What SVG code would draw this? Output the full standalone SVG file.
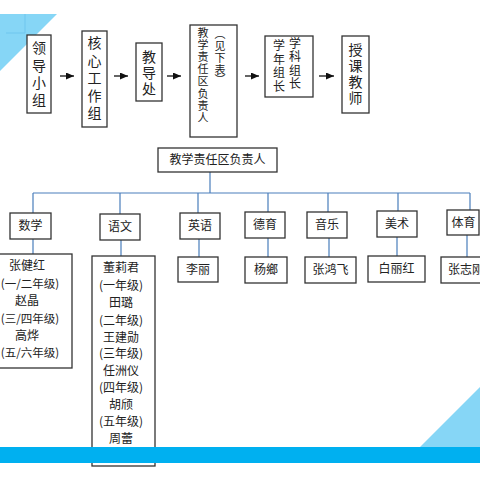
<svg xmlns="http://www.w3.org/2000/svg" width="480" height="480" viewBox="0 0 480 480">
<defs>
<style>
.box{fill:#fff;stroke:#333;stroke-width:1.3}
.t{font-family:"Noto Sans CJK SC","Liberation Sans",sans-serif;fill:#222;text-anchor:middle}
.t14{font-size:14px}
.t12{font-size:12px}
.t11{font-size:11px}
.t115{font-size:11.5px}
.arr{stroke:#111;stroke-width:1.3;fill:none}
.blue{stroke:#4a7ebb;stroke-width:1.2;fill:none}
</style>
<marker id="ah" markerUnits="userSpaceOnUse" markerWidth="8" markerHeight="7" refX="8" refY="3.5" orient="auto">
<path d="M0,0 L8,3.5 L0,7 z" fill="#111"/>
</marker>
</defs>
<rect x="0" y="0" width="480" height="480" fill="#fff"/>
<g id="decor">
<polygon points="0,14 57,14 0,71" fill="#86d6f6"/>
<path d="M6 33 H25 V14" stroke="#6ec6ee" stroke-width="1" fill="none"/>
<polygon points="420,447 480,447 480,387" fill="#86d6f6"/>
</g>
<g id="connectors">
<line class="arr" x1="60" y1="76" x2="74" y2="76" marker-end="url(#ah)"/>
<line class="arr" x1="114" y1="76" x2="128" y2="76" marker-end="url(#ah)"/>
<line class="arr" x1="167" y1="76" x2="181" y2="76" marker-end="url(#ah)"/>
<line class="arr" x1="245" y1="76" x2="259" y2="76" marker-end="url(#ah)"/>
<line class="arr" x1="319" y1="76" x2="334" y2="76" marker-end="url(#ah)"/>
<path class="blue" d="M210 172 V193 M33 193 H470 M33 193 V213 M120 193 V214 M198 193 V213 M268 193 V212 M328 193 V212 M398 193 V211 M470 193 V210"/>
<path class="blue" d="M33 239 V254 M121 240 V256 M199 239 V257 M268 238 V257 M329 238 V257 M397 237 V256 M467 235 V257"/>
</g>
<g id="n-lingdao">
<rect class="box" x="27" y="35" width="24" height="78"/>
<text class="t t14"><tspan x="39" y="53">领</tspan><tspan x="39" y="71">导</tspan><tspan x="39" y="88">小</tspan><tspan x="39" y="105">组</tspan></text>
</g>
<g id="n-hexin">
<rect class="box" x="82" y="31" width="25" height="96"/>
<text class="t t14"><tspan x="94.5" y="48">核</tspan><tspan x="94.5" y="66">心</tspan><tspan x="94.5" y="83">工</tspan><tspan x="94.5" y="101">作</tspan><tspan x="94.5" y="118">组</tspan></text>
</g>
<g id="n-jiaodao">
<rect class="box" x="136" y="43" width="26" height="58"/>
<text class="t t14"><tspan x="149" y="62">教</tspan><tspan x="149" y="78">导</tspan><tspan x="149" y="94">处</tspan></text>
</g>
<g id="n-zeren-top">
<rect class="box" x="190" y="25" width="47" height="112"/>
<text class="t t11"><tspan x="203" y="37">教</tspan><tspan x="203" y="49">学</tspan><tspan x="203" y="61">责</tspan><tspan x="203" y="73">任</tspan><tspan x="203" y="85">区</tspan><tspan x="203" y="98">负</tspan><tspan x="203" y="110">责</tspan><tspan x="203" y="122">人</tspan></text>
<text class="t t11"><tspan x="220" y="38">︵</tspan><tspan x="220" y="50">见</tspan><tspan x="220" y="62">下</tspan><tspan x="220" y="74">表</tspan><tspan x="220" y="84">︶</tspan></text>
</g>
<g id="n-zuzhang">
<rect class="box" x="265" y="36" width="48" height="61"/>
<text class="t t12"><tspan x="295" y="47.5">学</tspan><tspan x="295" y="61">科</tspan><tspan x="295" y="74.5">组</tspan><tspan x="295" y="88">长</tspan></text>
<text class="t t12"><tspan x="279" y="50">学</tspan><tspan x="279" y="63.5">年</tspan><tspan x="279" y="77">组</tspan><tspan x="279" y="90.5">长</tspan></text>
</g>
<g id="n-shouke">
<rect class="box" x="342" y="36" width="27" height="77"/>
<text class="t t14"><tspan x="355.5" y="55">授</tspan><tspan x="355.5" y="71">课</tspan><tspan x="355.5" y="87">教</tspan><tspan x="355.5" y="103">师</tspan></text>
</g>
<g id="n-zeren">
<rect class="box" x="158" y="148" width="119" height="24"/>
<text class="t t12" x="217.5" y="164">教学责任区负责人</text>
</g>
<g id="n-shuxue">
<rect class="box" x="10" y="213" width="41" height="26"/>
<text class="t t12" x="30.5" y="230">数学</text>
</g>
<g id="n-yuwen">
<rect class="box" x="100" y="214" width="40" height="26"/>
<text class="t t12" x="120" y="231">语文</text>
</g>
<g id="n-yingyu">
<rect class="box" x="180" y="213" width="40" height="26"/>
<text class="t t12" x="200" y="230">英语</text>
</g>
<g id="n-deyu">
<rect class="box" x="245" y="212" width="40" height="26"/>
<text class="t t12" x="265" y="229">德育</text>
</g>
<g id="n-yinyue">
<rect class="box" x="307" y="212" width="40" height="26"/>
<text class="t t12" x="327" y="229">音乐</text>
</g>
<g id="n-meishu">
<rect class="box" x="377" y="211" width="40" height="26"/>
<text class="t t12" x="397" y="228">美术</text>
</g>
<g id="n-tiyu">
<rect class="box" x="447" y="210" width="32" height="25"/>
<text class="t t12" x="463.5" y="227">体育</text>
</g>
<g id="n-shuxue-names">
<rect class="box" x="-18" y="254" width="90" height="114"/>
<text class="t t12"><tspan x="27" y="270">张健红</tspan><tspan x="30" y="288" class="t115">(一/二年级)</tspan><tspan x="27" y="305">赵晶</tspan><tspan x="30" y="323" class="t115">(三/四年级)</tspan><tspan x="27" y="340">高烨</tspan><tspan x="30" y="357" class="t115">(五/六年级)</tspan></text>
</g>
<g id="n-yuwen-names">
<rect class="box" x="92" y="256" width="63" height="210"/>
<text class="t t12"><tspan x="121" y="272">董莉君</tspan><tspan x="121" y="290">(一年级)</tspan><tspan x="121" y="307">田璐</tspan><tspan x="121" y="325">(二年级)</tspan><tspan x="121" y="342">王建勋</tspan><tspan x="121" y="358">(三年级)</tspan><tspan x="121" y="375">任洲仪</tspan><tspan x="121" y="392">(四年级)</tspan><tspan x="121" y="409">胡颀</tspan><tspan x="121" y="426">(五年级)</tspan><tspan x="121" y="443">周蕾</tspan></text>
</g>
<g id="n-lili">
<rect class="box" x="178" y="257" width="40" height="25"/>
<text class="t t12" x="198" y="274">李丽</text>
</g>
<g id="n-yang">
<rect class="box" x="245" y="257" width="42" height="26"/>
<text class="t t12" x="266" y="274">杨鄉</text>
</g>
<g id="n-zhanghf">
<rect class="box" x="305" y="257" width="51" height="26"/>
<text class="t t12" x="330.5" y="274">张鸿飞</text>
</g>
<g id="n-bailh">
<rect class="box" x="368" y="256" width="57" height="26"/>
<text class="t t12" x="396.5" y="273">白丽红</text>
</g>
<g id="n-zhangzg">
<rect class="box" x="441" y="257" width="50" height="26"/>
<text class="t t12" x="448" y="274" style="text-anchor:start">张志刚</text>
</g>
<g id="bar">
<rect x="0" y="447" width="480" height="16" fill="#00b0f0"/>
</g>
</svg>
